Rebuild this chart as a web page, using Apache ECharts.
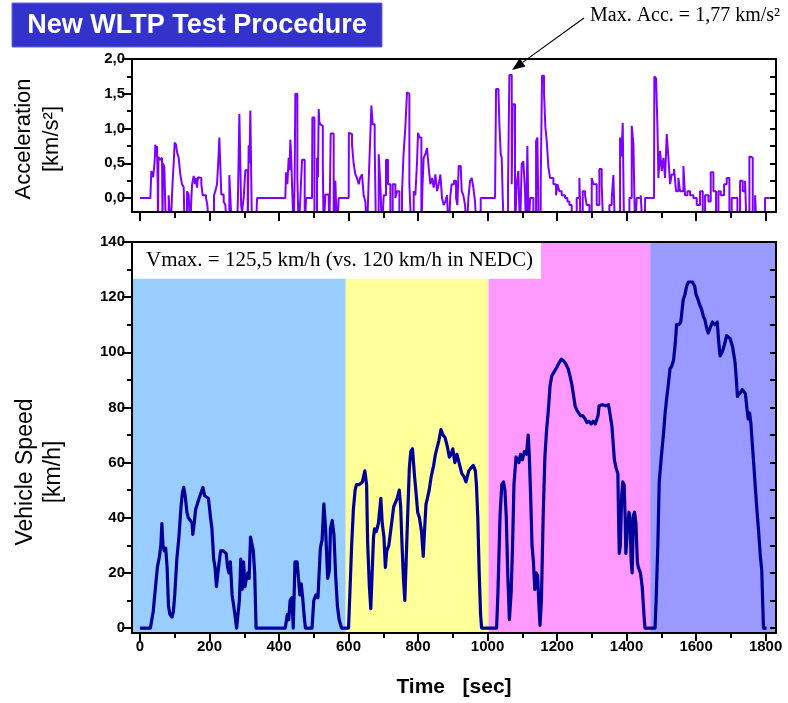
<!DOCTYPE html>
<html>
<head>
<meta charset="utf-8">
<script src="https://cdn.jsdelivr.net/npm/echarts@6/dist/echarts.min.js"></script>
<style>html,body{margin:0;padding:0;background:#fff;}#c{width:788px;height:703px;}</style>
</head>
<body>
<div id="c"></div>
<script>
// ---- data ----
const speedTime = [0,30,38,44,50,56,60,63,66,70,74,78,82,86,92,96,100,106,112,118,122,126,130,135,139,145,150,152,156,160,170,181,186,197,203,207,212,216,220,226,232,240,248,252,256,260,265,272,278,282,286,290,294,298,302,306,310,314,318,322,326,330,334,418,424,428,432,437,441,446,452,456,460,464,468,472,476,495,500,506,512,519,524,529,534,540,545,548,553,558,563,568,573,580,600,
604,609,614,619,623,630,640,647,652,655,660,664,668,672,675,680,686,693,697,702,706,710,716,722,730,740,746,750,754,758,762,766,770,775,779,784,790,795,799,804,810,815,819,823,827,832,838,845,850,854,860,866,872,878,884,890,895,900,906,912,918,926,932,938,946,952,959,965,968,972,976,980,983,1026,
1030,1036,1041,1046,1050,1054,1058,1063,1068,1072,1076,1082,1090,1095,1100,1106,1112,1117,1120,1124,1128,1132,1136,1140,1144,1148,1151,1155,1160,1165,1170,1175,1180,1185,1192,1199,1205,1212,1218,1224,1232,1238,1243,1248,1252,1257,1262,1268,1274,1280,1286,1292,1298,1304,1310,1314,1318,1321,1330,1340,1348,1352,1358,1365,1370,1375,1377,1379,1382,1386,1389,1393,1396,1398,1402,1407,1410,1413,1416,1420,1423,1427,1431,1434,1440,1445,1450,1453,1482,
1485,1490,1494,1500,1506,1511,1516,1520,1525,1530,1535,1540,1544,1550,1556,1563,1568,1573,1578,1583,1590,1596,1600,1606,1611,1616,1621,1625,1630,1635,1640,1644,1647,1654,1661,1665,1669,1675,1680,1688,1693,1698,1705,1712,1716,1719,1725,1733,1738,1742,1746,1750,1754,1758,1760,1764,1767,1771,1775,1780,1785,1789,1792,1794,1803];
const speedValue = [0,0,6,14,22,26,30,38,30,28,29,22,8,5,4,6,12,25,33,44,49,51,48,42,40,39,38,34,38,43,47,51,48,47,40,36,25,22,15,22,28,28,27,22,20,24,12,6,0,0,10,25,14,24,15,18,20,18,33,33,28,20,0,0,5,3,10,11,0,24,24,18,12,16,11,5,0,0,10,12,11,29,32,45,36,18,21,36,39,34,19,8,3,0,0,
13,30,43,50,52,52,53,57,52,31,15,7,20,33,36,35,38,47,38,33,22,28,30,36,44,47,50,44,30,18,10,25,40,58,64,65,55,48,42,40,35,26,36,45,47,50,55,59,63,65,68,72,70,69,66,62,63,65,60,63,60,56,55,53,57,58,59,57,52,40,20,5,0,0,
13,41,52,53,50,40,20,3,13,30,52,62,60,63,61,64,63,70,63,48,30,24,14,20,19,8,1,10,40,62,72,79,88,91.5,93,94.5,96,97.5,97,96,94,91,88,84,80.5,79,78,77,77,76,74.5,75,74,75,74,73.3,77,80.6,81,80.6,81,78,73,61,58,56,40,27,30,48,53,52,40,27,35,42,40,25,20,41,42,38,24,22,20,15,5,0,0,
10,30,53,62,70,78,84,88,94,95,97,103,110,110,111,119,121,124,125.5,125.5,125.5,124,121,119,117,115.6,113,112,109,107,106.6,110,111,110,111,104,98.7,100,102,106,106.6,105,102,96.5,90,84,85,86.5,87,85,80,75.8,78,74,70,63,57.6,50,43,35,26,21,8,0,0];

const accTime = [0,29.8,30.5,32.6,36.5,38,42.2,44.1,46,49,51,51.8,53,58,63.3,65,66,68.1,70,72.9,74.8,78,82.5,88,92.1,94,97,99.8,103.6,107,111.3,116,120.9,125.7,128.5,132,135.3,140,144.9,147.7,150,154.5,158,161.2,164,166.9,171.7,176.5,180.4,186.1,190,193.8,199.5,207.2,213,216.8,221.6,225,228.3,232.1,234,240.8,245.6,250.4,255,257.1,262.8,264.8,279.1,282,285.9,289.7,291,293.5,298.3,303.1,307.9,310,312.7,315,317.5,320.4,322.3,333.8,336.7,418.2,420.2,424,427.8,430,432.6,435,437.4,442.2,445,447,449.9,452.8,456.6,461.4,466.2,470,473.9,477.7,495,496,499.8,502,504.6,509.4,512,514.2,516,519,523.7,526,528.5,533.3,542.9,545,548.7,552.5,557.3,562.1,566.9,571.7,600.5,
601,605.3,610.1,614.9,619.7,624.5,629.3,634,638.8,643.6,648.4,653.2,658,662,665.7,669.5,675.3,679.1,683,686.8,691.6,696.4,701.2,707.9,713.7,720.4,727.1,734.8,739.6,746.3,754,758,763.5,768.3,771.2,775.1,780.8,787.5,792.3,797,800,803.8,809.6,813,816.3,821.1,825.9,830.7,835.5,840.3,845.1,849.9,854.7,859.5,864.3,869.1,873.9,878.6,883.4,888.2,893,896.9,903.6,909.4,913.2,917,922.8,925.7,930.5,935.3,940.1,944.9,949.7,954.4,959.2,964,968.8,973.6,980.3,1021.6,
1024.5,1031.2,1034.1,1037.9,1040.8,1043.7,1047.5,1053.2,1059,1062.8,1066.7,1069.6,1072.4,1076.3,1079.1,1083.9,1088.7,1093.5,1098.3,1103.1,1107.9,1110.8,1114.6,1118.5,1122.3,1131.9,1139.6,1143.4,1147.2,1153,1156.8,1162.6,1166.4,1170.3,1175.1,1179.9,1189.5,1197.1,1201,1206.7,1213.4,1223,1229.7,1235.5,1242.2,1247,1256.6,1264.3,1268.1,1273.9,1280.6,1285.4,1293.1,1299.8,1304.6,1314.1,1321.8,1328.5,1333.3,1342.9,1350.6,1357.3,1362.1,1366.9,1373.6,1381.3,1385,1389,1392.8,1400.5,1408.2,1414.9,1419.7,1424.5,1429.3,1434.1,1440.8,1446.5,1453.2,1479.1,
1480,1484.9,1488.7,1491.6,1496.4,1501.2,1506,1510.8,1515.6,1520.4,1525.2,1530,1536.7,1542.4,1549.1,1553.9,1563.5,1568.3,1575.1,1582.7,1592.3,1601.9,1611.5,1619.2,1625.9,1635.5,1642.2,1649.9,1657.5,1664.3,1671,1680.6,1688.2,1695.9,1702.6,1712.2,1718.9,1726.6,1734.3,1741,1745.8,1753.5,1758.3,1763.1,1769.8,1774.6,1784.2,1791.8,1798.5,1812];
const accValue = [0,0,0.1,0.39,0.39,0.3,0.53,0.77,0.6,0.75,0.2,-0.5,0.59,0.55,0.58,-0.5,0.5,0.49,0.45,0.44,-0.5,-0.5,0.04,-0.5,0.04,0.24,0.5,0.8,0.77,0.65,0.58,0.34,0.2,0.16,-0.5,-0.5,0.1,0.05,-0.5,0,0.2,0.32,0.2,0.29,0.15,0.3,0.29,0.2,0.04,0.04,0,-0.1,-0.5,-0.5,0.04,0.1,0.2,0.5,0.87,0.89,0.05,-0.05,-0.1,-0.5,-0.5,0.33,0.33,-0.5,-0.5,0.05,1.21,1.21,-0.1,-0.2,0,0.4,0.4,-0.5,0.76,0.5,1.26,1.26,-0.5,-0.5,0,0,0.37,0.2,0.58,0.4,0.84,0.6,0.2,-0.5,0.3,1.5,1.5,0.29,-0.5,0,0.55,0.55,-0.5,0,0,1.16,1.16,-0.5,-0.5,0.58,0.3,1.28,1.1,1.06,1.04,0.5,-0.5,0.05,0,-0.5,0.93,0.93,-0.5,0.25,-0.5,0,0,
0.94,0.92,0.77,0.49,0.34,0.29,0.2,0.3,0.34,0.04,-0.05,-0.5,0.25,0.8,1.33,1.06,0.77,-0.5,-0.5,0.63,0.2,-0.5,0.04,0.55,0.2,-0.5,0.2,0,0.1,-0.5,0.1,0.6,1.02,1.52,1.5,0.2,-0.5,0.1,0.04,0.5,0.94,0.87,-0.5,0.2,0.58,0.63,0.72,0.44,0.2,0.29,0.15,0.34,0.1,0.2,0.34,0,-0.1,-0.05,0.04,-0.5,0.04,0.2,0.25,0,-0.1,0.46,0.44,0.1,0.04,-0.1,-0.5,0,0.25,0.29,0.15,-0.05,-0.5,-0.5,0,0,
1.57,1.57,1.06,0.63,0.58,0,-0.5,-0.5,0.2,1.77,1.77,0.2,1.35,1.35,-0.5,0.2,0.39,-0.5,0.49,0.53,0.1,-0.5,0.75,-0.5,0,-0.5,0.82,0.87,-0.5,0.2,1.76,1.5,1.02,0.82,0.45,0.29,0.2,0.04,0.2,0.1,0.04,0,-0.05,-0.1,-0.5,-0.5,0,0.29,-0.5,0.1,0.04,-0.1,-0.5,0.29,0.2,-0.1,0.42,0.2,-0.5,-0.5,-0.1,0,0.33,-0.5,-0.5,0.87,0.6,1.08,-0.5,-0.5,0,1.04,0.78,-0.5,0,0,0.04,-0.5,0,0,
1.75,1.72,1.06,0.29,0.68,0.39,0.58,0.29,0.92,0.58,0.2,0.34,0.42,0.1,0.29,0.1,0.46,0.04,0.1,0.04,0,-0.1,0.1,-0.5,0.04,-0.05,0.37,0.1,-0.5,0.1,0.04,0.2,0.29,-0.5,0,0,-0.5,0.25,0.1,0.25,-0.5,0.6,0.58,-0.5,0.04,-0.5,-0.5,-0.5,0,0];

const phaseStart = [-23, 592, 1003, 1468];
const phaseEnd   = [592, 1003, 1468, 1830];
const phaseColor = ['#99CCFF', '#FFFF99', '#FF99FF', '#9999FF'];

const xMajorTicks = [0,200,400,600,800,1000,1200,1400,1600,1800];
const xMinorTicks = [100,300,500,700,900,1100,1300,1500,1700];
const accMajorTicks = [0,0.5,1,1.5,2];
const accMinorTicks = [0.25,0.75,1.25,1.75];
const accRightTicks = [0,0.25,0.5,0.75,1,1.25,1.5,1.75];
const spdMajorTicks = [0,20,40,60,80,100,120,140];
const spdMinorTicks = [10,30,50,70,90,110,130];
const spdRightTicks = [0,10,20,30,40,50,60,70,80,90,100,110,120,130];

const vmaxText = 'Vmax. = 125,5 km/h (vs. 120 km/h in NEDC)';
const vmaxBox = {x0: -23, x1: 1154, y0: 126.7, y1: 140};
const maxAccText = 'Max. Acc. = 1,77 km/s²';

// ---- chart ----
const SANS = '"Liberation Sans", Arial, sans-serif';
const SERIF = '"Liberation Serif", "Times New Roman", serif';
const chart = echarts.init(document.getElementById('c'), null, {renderer: 'canvas'});

function xAx(grid, ticks, len, labels) {
  return {
    type: 'value', gridIndex: grid, position: 'bottom', min: -23, max: 1830, z: 6,
    axisLine: {show: false, onZero: false}, splitLine: {show: false},
    axisTick: {show: true, inside: false, length: len, customValues: ticks, lineStyle: {color: '#000', width: 2}},
    axisLabel: labels ? {show: true, customValues: ticks, margin: 6, color: '#000', fontFamily: SANS, fontWeight: 'bold', fontSize: 15, formatter: v => String(v)} : {show: false}
  };
}
function yAx(grid, pos, min, max, ticks, len, inside, labels, fmt) {
  return {
    type: 'value', gridIndex: grid, position: pos, min: min, max: max, z: 6,
    axisLine: {show: false, onZero: false}, splitLine: {show: false},
    axisTick: {show: true, inside: inside, length: len, customValues: ticks, lineStyle: {color: '#000', width: 2}},
    axisLabel: labels ? {show: true, customValues: ticks, margin: 7, color: '#000', fontFamily: SANS, fontWeight: 'bold', fontSize: 15, formatter: fmt} : {show: false}
  };
}

const accSeries = accTime.map((t, i) => [t, accValue[i]]);
const speedSeries = speedTime.map((t, i) => [t, speedValue[i]]);

const areas = phaseStart.map((s, i) => [
  {xAxis: s, itemStyle: {color: phaseColor[i]}},
  {xAxis: phaseEnd[i]}
]);
areas.push([
  {xAxis: vmaxBox.x0, yAxis: vmaxBox.y0, itemStyle: {color: '#FFFFFF'},
   label: {show: true, position: 'insideLeft', distance: 14, formatter: vmaxText, color: '#000', fontFamily: SERIF, fontSize: 21}},
  {xAxis: vmaxBox.x1, yAxis: vmaxBox.y1}
]);

const option = {
  animation: false,
  backgroundColor: '#fff',
  grid: [
    {left: 132, right: 12, top: 59, height: 153, show: true, borderColor: '#000', borderWidth: 2, backgroundColor: 'transparent', z: 5},
    {left: 132, right: 12, top: 242, height: 392, show: true, borderColor: '#000', borderWidth: 2, backgroundColor: 'transparent', z: 5}
  ],
  xAxis: [
    xAx(0, xMajorTicks, 9, false),
    xAx(0, xMinorTicks, 6, false),
    Object.assign(xAx(1, xMajorTicks, 8, true), {
      name: 'Time   [sec]', nameLocation: 'middle', nameGap: 44,
      nameTextStyle: {fontFamily: SANS, fontWeight: 'bold', fontSize: 21, color: '#000'}
    }),
    xAx(1, xMinorTicks, 5, false)
  ],
  yAxis: [
    yAx(0, 'left', -0.2, 2, accMajorTicks, 10, false, true, v => v.toFixed(1).replace('.', ',')),
    yAx(0, 'left', -0.2, 2, accMinorTicks, 5, false, false),
    yAx(0, 'right', -0.2, 2, accRightTicks, 6, true, false),
    yAx(1, 'left', -1.8, 140, spdMajorTicks, 10, false, true, v => String(v)),
    yAx(1, 'left', -1.8, 140, spdMinorTicks, 5, false, false),
    yAx(1, 'right', -1.8, 140, spdRightTicks, 6, true, false)
  ],
  series: [
    {
      type: 'line', xAxisIndex: 0, yAxisIndex: 0, data: accSeries, showSymbol: false, symbol: 'none',
      step: 'end', clip: true, z: 3, lineStyle: {color: '#8000FF', width: 2}
    },
    {
      type: 'line', xAxisIndex: 2, yAxisIndex: 3, data: speedSeries, showSymbol: false, symbol: 'none',
      clip: true, z: 3, lineStyle: {color: '#000099', width: 3.2, join: 'round'},
      markArea: {silent: true, data: areas}
    }
  ],
  graphic: [
    {type: 'rect', id: 'titleBox', shape: {x: 12, y: 3, width: 370, height: 44}, style: {fill: '#3333CC', stroke: '#6666DD', lineWidth: 1}},
    {type: 'text', id: 'titleText', x: 197, y: 26, style: {text: 'New WLTP Test Procedure', fill: '#fff', font: 'bold 27px ' + SANS, textAlign: 'center', textVerticalAlign: 'middle'}},
    {type: 'text', id: 'accName', x: 38, y: 139, rotation: Math.PI / 2,
     style: {text: 'Acceleration\n[km/s²]', fill: '#000', font: '22px ' + SANS, textAlign: 'center', textVerticalAlign: 'middle', lineHeight: 28}},
    {type: 'text', id: 'spdName', x: 40, y: 472, rotation: Math.PI / 2,
     style: {text: 'Vehicle Speed\n[km/h]', fill: '#000', font: '23px ' + SANS, textAlign: 'center', textVerticalAlign: 'middle', lineHeight: 28}},
    {type: 'text', id: 'maxAcc', x: 590, y: 16, style: {text: maxAccText, fill: '#000', font: '20px ' + SERIF, textAlign: 'left', textVerticalAlign: 'middle'}}
  ]
};
chart.setOption(option);

// arrow pointing at the maximum acceleration sample
let iMax = 0;
accValue.forEach((v, i) => { if (v > accValue[iMax]) iMax = i; });
const tip = chart.convertToPixel({xAxisIndex: 0, yAxisIndex: 0}, [accTime[iMax] + 2, accValue[iMax]]);
const tail = [584, 18];
const tx = tip[0] + 2, ty = tip[1] - 5;
const ang = Math.atan2(ty - tail[1], tx - tail[0]);
const L = 13, W = 5;
const bx = tx - L * Math.cos(ang), by = ty - L * Math.sin(ang);
chart.setOption({graphic: [
  {type: 'line', id: 'arrowLine', shape: {x1: tail[0], y1: tail[1], x2: bx, y2: by}, style: {stroke: '#000', lineWidth: 1.2}},
  {type: 'polygon', id: 'arrowHead', shape: {points: [[tx, ty], [bx + W * Math.sin(ang), by - W * Math.cos(ang)], [bx - W * Math.sin(ang), by + W * Math.cos(ang)]]}, style: {fill: '#000'}}
]});
</script>
</body>
</html>
